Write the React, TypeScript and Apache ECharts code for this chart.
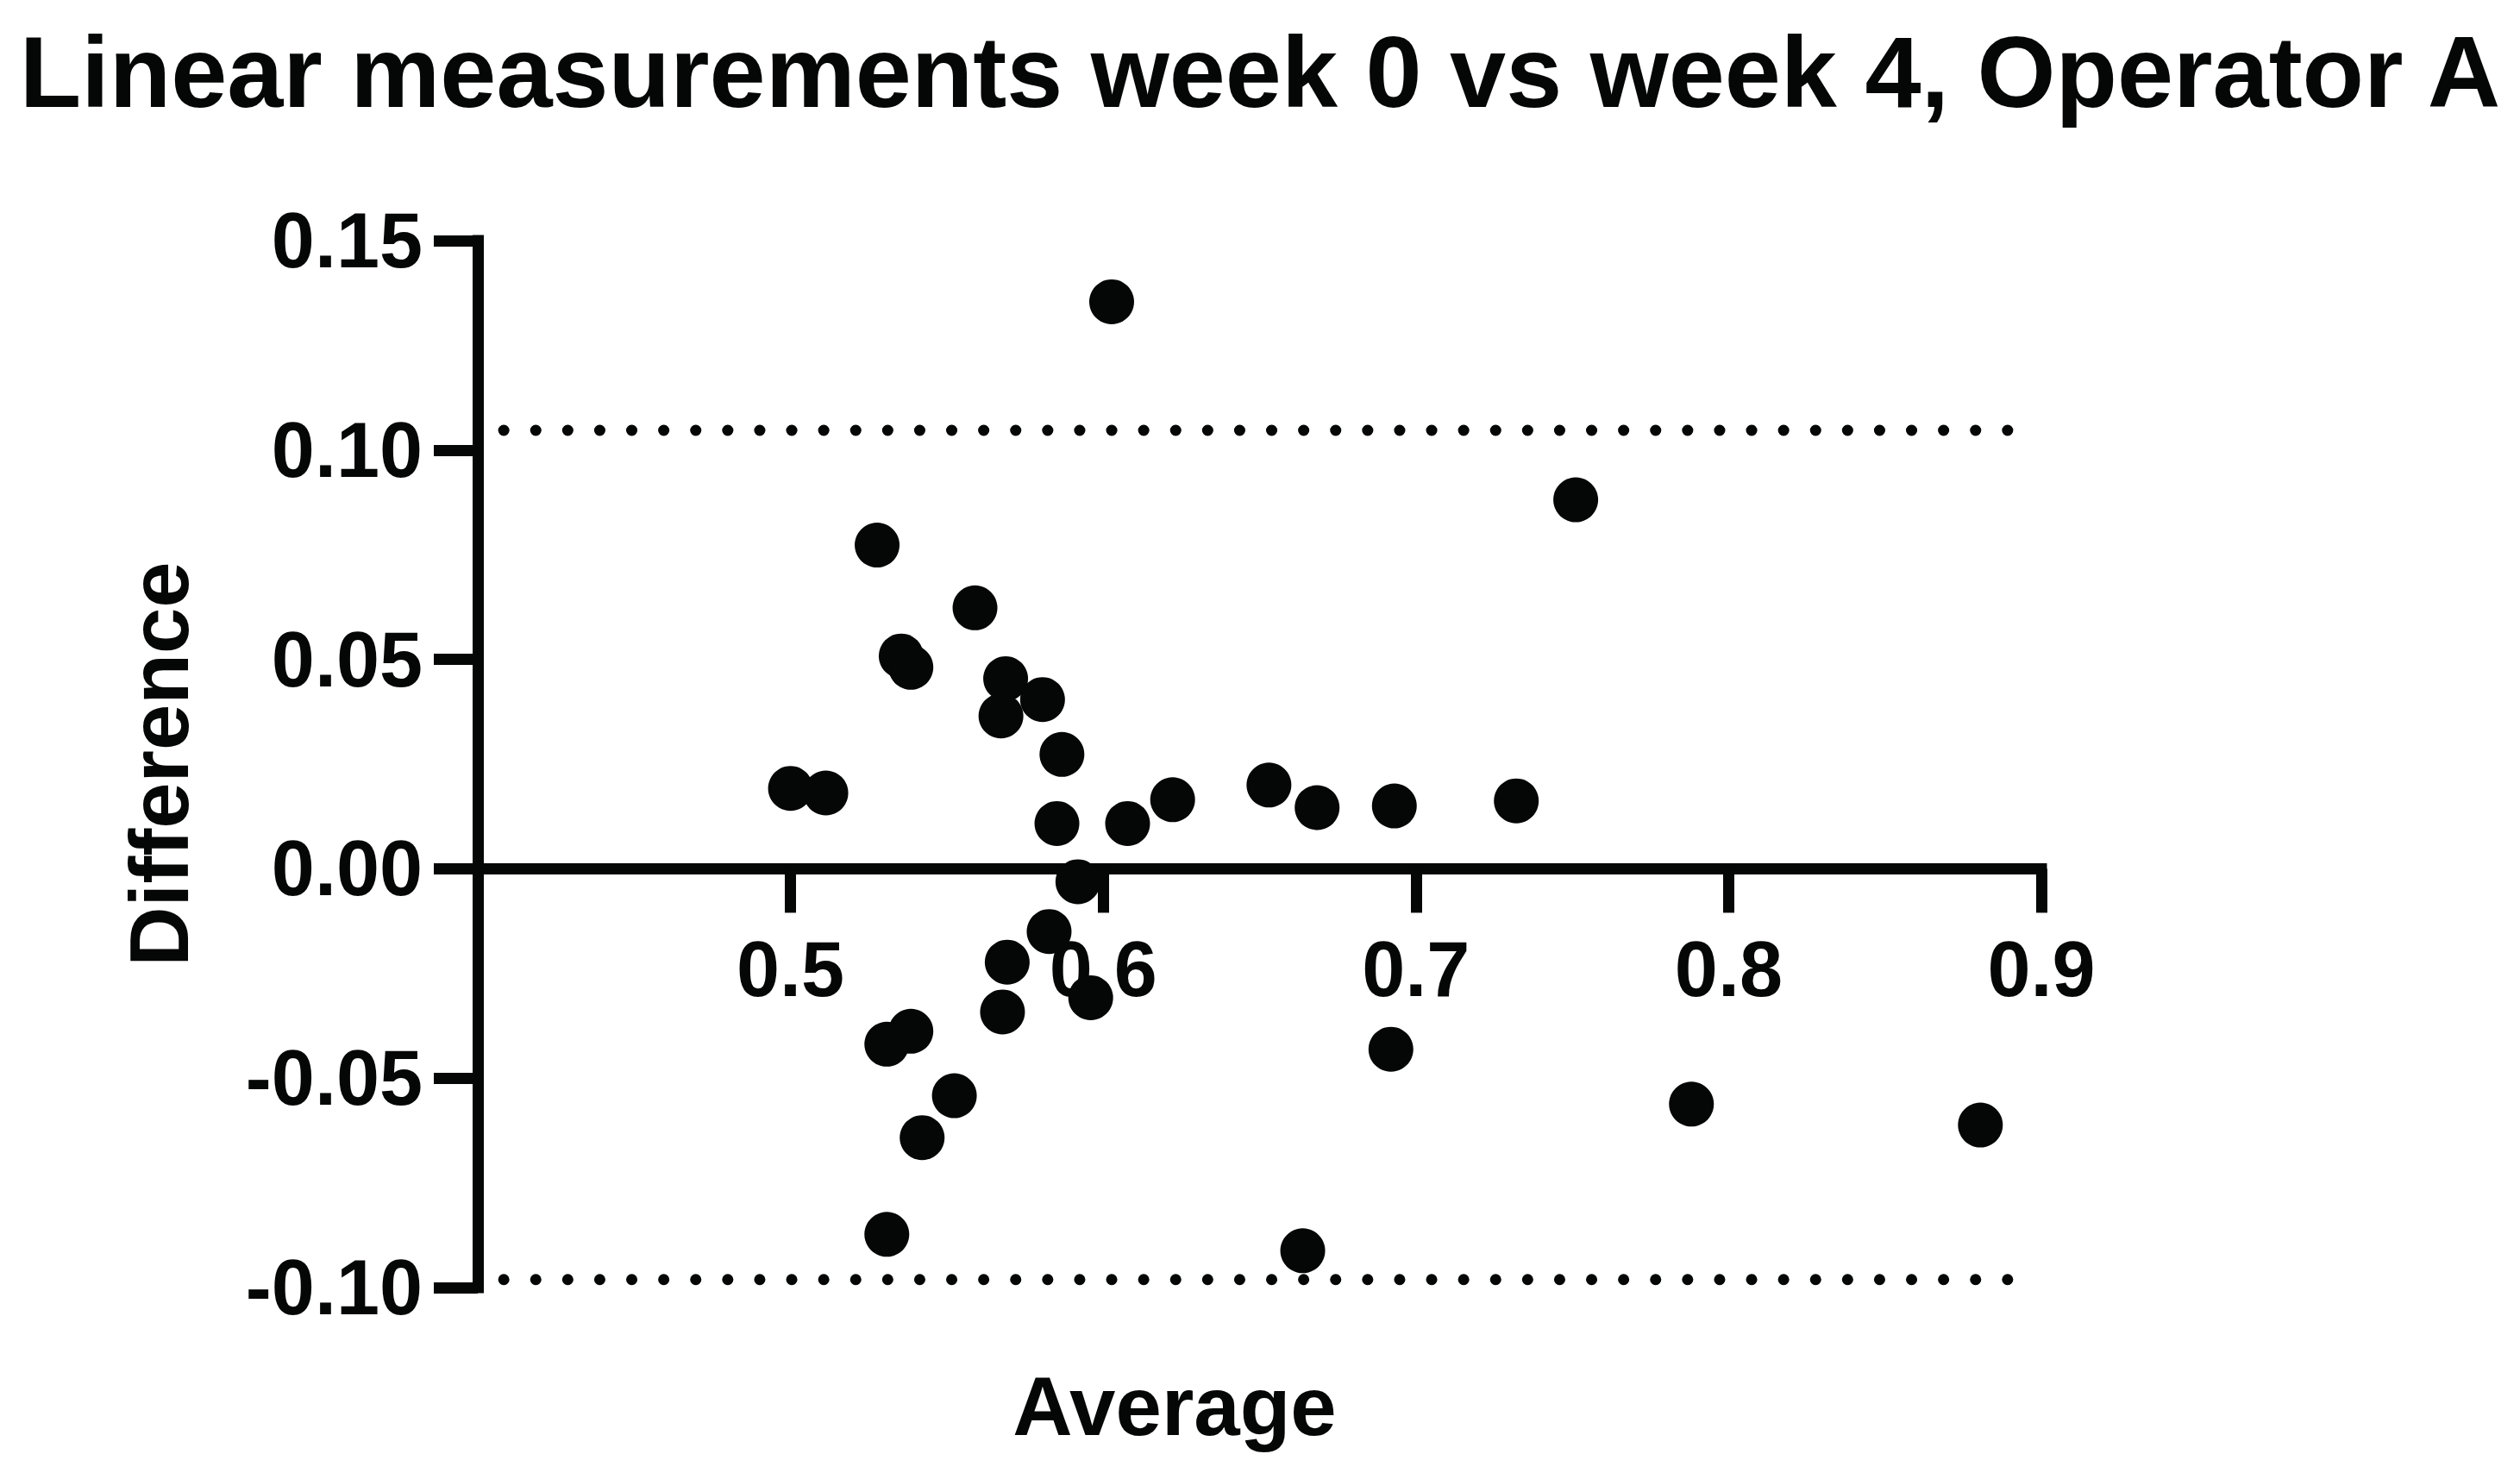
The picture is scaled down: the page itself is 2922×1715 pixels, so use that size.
import React, { useEffect, useRef } from "react";
import * as echarts from "echarts";

const titleText = "Linear measurements week 0 vs week 4, Operator A";
const xAxisTitle = "Average";
const yAxisTitle = "Difference";

const averages = [
  0.6027, 0.7511, 0.5277, 0.559, 0.5354, 0.5385, 0.5688, 0.5806, 0.5673,
  0.5868, 0.5, 0.5113, 0.6222, 0.653, 0.6684, 0.6931, 0.7321, 0.5852,
  0.6078, 0.5919, 0.5827, 0.5693, 0.596, 0.5678, 0.5385, 0.5308, 0.5524,
  0.5421, 0.5308, 0.6638, 0.692, 0.7881, 0.8805,
];
const differences = [
  0.1354, 0.0881, 0.0773, 0.0623, 0.0508, 0.0481, 0.0454, 0.0404, 0.0365,
  0.0273, 0.0192, 0.0181, 0.0165, 0.02, 0.0146, 0.015, 0.0162, 0.0108,
  0.0108, -0.0031, -0.015, -0.0223, -0.0308, -0.0342, -0.0388, -0.0419,
  -0.0542, -0.0642, -0.0873, -0.0912, -0.0431, -0.0562, -0.0612,
];

const upperLimit = 0.1047;
const lowerLimit = -0.0981;
const limitXRange = [0.4083, 0.8926];

const xMin = 0.4;
const xMax = 0.9;
const xStep = 0.1;
const yMin = -0.1;
const yMax = 0.15;
const yStep = 0.05;

const FONT = "'Liberation Sans', Arial, Helvetica, sans-serif";
const INK = "#050606";

export default function App() {
  const ref = useRef<HTMLDivElement>(null);

  useEffect(() => {
    if (!ref.current) return;
    const chart = echarts.init(ref.current, null, { renderer: "svg" });
    const points = averages.map((a, i) => [a, differences[i]]);
    chart.setOption({
      animation: false,
      backgroundColor: "#ffffff",
      title: {
        text: titleText,
        left: "center",
        top: 20,
        textStyle: {
          fontFamily: FONT,
          fontWeight: "bold",
          fontSize: 117,
          color: INK,
        },
      },
      grid: { left: 554, right: 555, top: 279, bottom: 222, containLabel: false },
      xAxis: {
        type: "value",
        min: xMin,
        max: xMax,
        interval: xStep,
        splitLine: { show: false },
        axisLine: {
          onZero: true,
          lineStyle: { color: INK, width: 13, cap: "square" },
        },
        axisTick: {
          show: true,
          length: 51,
          lineStyle: { color: INK, width: 13 },
        },
        axisLabel: {
          margin: -414,
          fontFamily: FONT,
          fontWeight: "bold",
          fontSize: 90,
          color: INK,
          formatter: (v: number) => (Math.abs(v - xMin) < 1e-9 ? "" : v.toFixed(1)),
        },
      },
      yAxis: {
        type: "value",
        min: yMin,
        max: yMax,
        interval: yStep,
        splitLine: { show: false },
        axisLine: {
          onZero: false,
          lineStyle: { color: INK, width: 13, cap: "square" },
        },
        axisTick: {
          show: true,
          length: 51,
          lineStyle: { color: INK, width: 13 },
        },
        axisLabel: {
          margin: 64,
          fontFamily: FONT,
          fontWeight: "bold",
          fontSize: 90,
          color: INK,
          formatter: (v: number) => v.toFixed(2),
        },
        name: yAxisTitle,
        nameLocation: "middle",
        nameGap: 322,
        nameRotate: 90,
        nameTextStyle: {
          fontFamily: FONT,
          fontWeight: "bold",
          fontSize: 96,
          color: INK,
        },
      },
      graphic: [
        {
          type: "text",
          x: 1362,
          y: 1630,
          style: {
            text: xAxisTitle,
            fontFamily: FONT,
            fontWeight: "bold",
            fontSize: 96,
            fill: INK,
            align: "center",
            verticalAlign: "middle",
          },
        },
      ],
      series: [
        {
          type: "line",
          data: [
            [limitXRange[0], upperLimit],
            [limitXRange[1], upperLimit],
          ],
          symbol: "none",
          silent: true,
          lineStyle: { color: INK, width: 13, type: [0.1, 37], cap: "round" },
          z: 1,
        },
        {
          type: "line",
          data: [
            [limitXRange[0], lowerLimit],
            [limitXRange[1], lowerLimit],
          ],
          symbol: "none",
          silent: true,
          lineStyle: { color: INK, width: 13, type: [0.1, 37], cap: "round" },
          z: 1,
        },
        {
          type: "scatter",
          data: points,
          symbol: "circle",
          symbolSize: 52,
          itemStyle: { color: INK, opacity: 1 },
          z: 3,
        },
      ],
    });
    return () => chart.dispose();
  }, []);

  return (
    <div
      ref={ref}
      style={{ position: "absolute", left: 0, top: 0, width: 2922, height: 1715 }}
    />
  );
}
